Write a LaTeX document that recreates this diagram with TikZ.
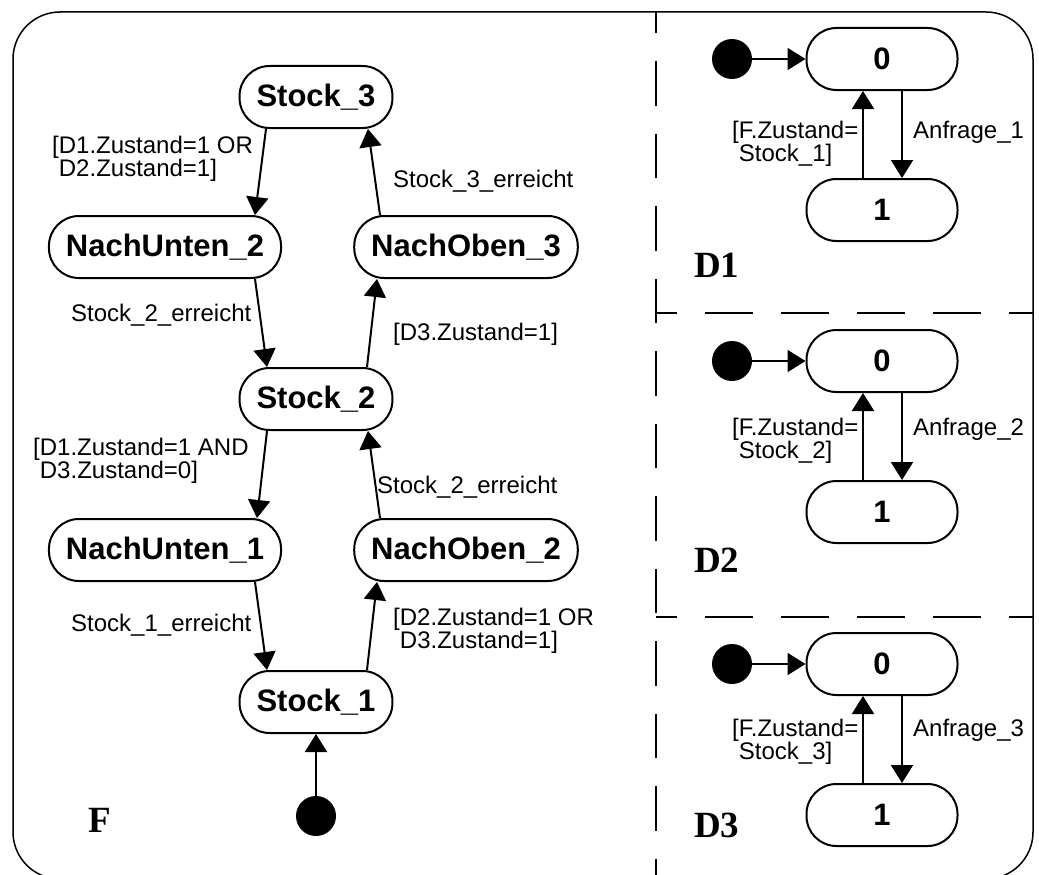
\documentclass[tikz,border=0pt]{standalone}
\usepackage{fontspec}
\setmainfont{Liberation Sans}
\newfontfamily\serifbold{Liberation Serif}
\usetikzlibrary{arrows.meta}

\begin{document}
\begin{tikzpicture}[x=1pt,y=-1pt,
  zustand/.style={draw,line width=2pt,rounded corners=30pt,minimum height=62pt,
    inner xsep=17pt,font=\fontsize{31}{34}\selectfont\bfseries},
  start/.style={circle,fill=black,inner sep=0pt,minimum size=40pt},
  uebergang/.style={line width=2pt,-{Triangle[length=18pt,width=22pt]}},
  waechter/.style={font=\fontsize{24}{23}\selectfont,align=left,inner sep=0pt},
  bereich/.style={font=\fontsize{37}{40}\selectfont\serifbold\bfseries,inner sep=0pt}]
  \useasboundingbox (0,0) rectangle (1039,875);
  % frame and regions
  \draw[line width=1.5pt,rounded corners=47pt] (13,12) rectangle (1033,879);
  \draw[line width=1.5pt,dash pattern=on 44.5pt off 28pt,dash phase=23.5pt] (656,12) -- (656,879);
  \draw[line width=1.5pt,dash pattern=on 48pt off 28pt,dash phase=27pt] (656,313) -- (1033,313);
  \draw[line width=1.5pt,dash pattern=on 48pt off 28pt,dash phase=27pt] (656,617) -- (1033,617);
  % F
  \node[zustand] at (316,97) (s3) {Stock\_3};
  \node[zustand] at (165,247) (nu2) {NachUnten\_2};
  \node[zustand] at (466,247) (no3) {NachOben\_3};
  \node[zustand] at (316,399) (s2) {Stock\_2};
  \node[zustand] at (165,550) (nu1) {NachUnten\_1};
  \node[zustand] at (466,550) (no2) {NachOben\_2};
  \node[zustand] at (316,702) (s1) {Stock\_1};
  \node[start] at (316,816) (fstart) {};
  \node[bereich,anchor=base west] at (88,832) (fname) {F};
  \draw[uebergang] ([xshift=-50pt]s3.south) -- ([xshift=90pt]nu2.north);
  \draw[uebergang] ([xshift=-86pt]no3.north) -- ([xshift=52pt]s3.south);
  \draw[uebergang] ([xshift=90pt]nu2.south) -- ([xshift=-49pt]s2.north);
  \draw[uebergang] ([xshift=51pt]s2.north) -- ([xshift=-89pt]no3.south);
  \draw[uebergang] ([xshift=-49pt]s2.south) -- ([xshift=92pt]nu1.north);
  \draw[uebergang] ([xshift=-86pt]no2.north) -- ([xshift=52pt]s2.south);
  \draw[uebergang] ([xshift=90pt]nu1.south) -- ([xshift=-49pt]s1.north);
  \draw[uebergang] ([xshift=51pt]s1.north) -- ([xshift=-89pt]no2.south);
  \draw[uebergang] (fstart) -- (s1);
  \node[waechter,anchor=north west] at (52,135.5) (g1) {[D1.Zustand=1 OR\\\hspace*{.28em}D2.Zustand=1]};
  \node[waechter,anchor=base west] at (393,187) (g2) {Stock\_3\_erreicht};
  \node[waechter,anchor=base west] at (71,321) (g3) {Stock\_2\_erreicht};
  \node[waechter,anchor=base west] at (393,340) (g4) {[D3.Zustand=1]};
  \node[waechter,anchor=north west] at (33,437.5) (g5) {[D1.Zustand=1 AND\\\hspace*{.28em}D3.Zustand=0]};
  \node[waechter,anchor=base west] at (377,493) (g6) {Stock\_2\_erreicht};
  \node[waechter,anchor=base west] at (71,631) (g7) {Stock\_1\_erreicht};
  \node[waechter,anchor=north west] at (393,608) (g8) {[D2.Zustand=1 OR\\\hspace*{.28em}D3.Zustand=1]};
  % D1, D2, D3
  \foreach \i/\ya/\yt/\yl in {1/59/138/277, 2/361/435/572, 3/664/736/837} {
    \node[zustand,minimum width=151pt] at (882,\ya) (null\i) {0};
    \node[zustand,minimum width=151pt] at (882,\ya+151) (eins\i) {1};
    \node[start] at (732,\ya) (start\i) {};
    \node[bereich,anchor=base west] at (694,\yl) (name\i) {D\i};
    \draw[uebergang] (start\i) -- (null\i);
    \draw[uebergang] ([xshift=-19pt]eins\i.north) -- ([xshift=-19pt]null\i.south);
    \draw[uebergang] ([xshift=20pt]null\i.south) -- ([xshift=20pt]eins\i.north);
    \node[waechter,anchor=north west] at (732,\yt-17.5) (guard\i) {[F.Zustand=\\\hspace*{.28em}Stock\_\i]};
    \node[waechter,anchor=base west] at (913,\yt) (anfrage\i) {Anfrage\_\i};
  }
\end{tikzpicture}
\end{document}
